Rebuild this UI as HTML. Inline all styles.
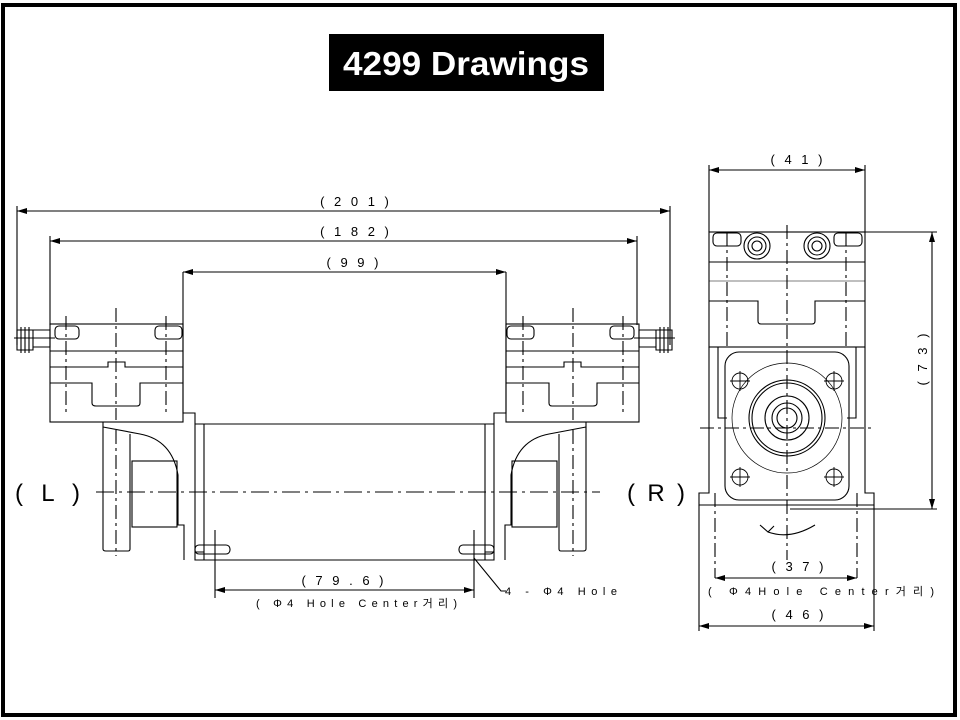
<!DOCTYPE html>
<html><head><meta charset="utf-8"><style>
html,body{margin:0;padding:0;background:#fff;}
svg{display:block;}
text{font-family:"Liberation Sans","Noto Sans CJK KR",sans-serif;fill:#000;}
</style></head><body>
<svg width="960" height="720" viewBox="0 0 960 720" xmlns="http://www.w3.org/2000/svg">
<defs>
<marker id="a" viewBox="0 0 10 6" refX="10" refY="3" markerWidth="10" markerHeight="6" orient="auto-start-reverse" markerUnits="userSpaceOnUse"><path d="M0,0 L10,3 L0,6 z" fill="#000"/></marker>
</defs>
<rect x="3" y="5" width="952" height="710" fill="#fff" stroke="#000" stroke-width="4"/>
<rect x="329" y="34" width="275" height="57" fill="#000"/>
<text x="466" y="75" font-size="33" font-weight="bold" text-anchor="middle" style="fill:#fff" textLength="246" lengthAdjust="spacingAndGlyphs">4299 Drawings</text>

<g fill="none" stroke="#000" stroke-width="1.1">
<line x1="17" y1="211" x2="670" y2="211" marker-start="url(#a)" marker-end="url(#a)"/>
<line x1="50" y1="241" x2="637" y2="241" marker-start="url(#a)" marker-end="url(#a)"/>
<line x1="183" y1="272" x2="506" y2="272" marker-start="url(#a)" marker-end="url(#a)"/>
<line x1="17" y1="206" x2="17" y2="345"/><line x1="670" y1="206" x2="670" y2="345"/>
<line x1="50" y1="236" x2="50" y2="325"/><line x1="637" y1="236" x2="637" y2="325"/>
<line x1="215" y1="590" x2="474" y2="590" marker-start="url(#a)" marker-end="url(#a)"/>
<line x1="215" y1="530" x2="215" y2="598"/><line x1="474" y1="530" x2="474" y2="598"/>
<polyline points="474,558 501,591 506,591"/>
<line x1="96" y1="492" x2="600" y2="492" stroke-dasharray="18,5,3,5"/>

<g id="half">
<path d="M17,330 h16 v20 h-16 z M21,327 v26 M25,327 v26 M29,327 v26 M33,330 h17 v17 h-17"/>
<line x1="14" y1="338" x2="55" y2="338"/>
<rect x="50" y="324" width="133" height="98"/>
<line x1="50" y1="351" x2="183" y2="351"/>
<path d="M50,367 H108 V362 H125 V367 H183"/>
<path d="M50,383 H92 V403 Q92,406 96,406 H137 Q140,406 140,403 V383 H183"/>
<rect x="55" y="326" width="24" height="13" rx="4"/>
<rect x="155" y="326" width="27" height="13" rx="4"/>
<g stroke-dasharray="14,4,3,4"><line x1="66" y1="316" x2="66" y2="415"/><line x1="116" y1="308" x2="116" y2="420"/><line x1="166" y1="316" x2="166" y2="415"/><line x1="116" y1="430" x2="116" y2="556"/></g>
<path d="M183,272 V413 H195 V560 H344.5"/>
<path d="M195,424 H344.5 M204,424 V560 M195,552 H204"/>
<path d="M103,422 V549 Q103,551 106,551 H128 Q130,551 130,549 V434"/>
<path d="M103,427 L140,434 Q172,440 178,475 V525 H184 V560"/>
<rect x="132" y="461" width="45" height="66"/>
<rect x="195" y="545" width="35" height="9" rx="4"/>
</g>
<use href="#half" transform="translate(689,0) scale(-1,1)"/>

<line x1="709" y1="170" x2="865" y2="170" marker-start="url(#a)" marker-end="url(#a)"/>
<line x1="709" y1="165" x2="709" y2="232"/><line x1="865" y1="165" x2="865" y2="232"/>
<line x1="932" y1="232" x2="932" y2="509" marker-start="url(#a)" marker-end="url(#a)"/>
<line x1="865" y1="232" x2="937" y2="232"/><line x1="790" y1="509" x2="937" y2="509"/>
<rect x="709" y="232" width="156" height="115"/>
<line x1="709" y1="262" x2="865" y2="262"/>
<line x1="709" y1="281" x2="865" y2="281" stroke-width="0.6"/>
<path d="M709,301 H758 V321 Q758,324 761,324 H812 Q815,324 815,321 V301 H865"/>
<rect x="713" y="233" width="28" height="13" rx="4"/>
<rect x="834" y="233" width="28" height="13" rx="4"/>
<circle cx="757" cy="246" r="13"/><circle cx="757" cy="246" r="9"/><circle cx="757" cy="246" r="5"/>
<circle cx="817" cy="246" r="13"/><circle cx="817" cy="246" r="9"/><circle cx="817" cy="246" r="5"/>
<path d="M709,347 V493 H699 V505 H874 V493 H865 V347"/>
<path d="M718,347 V418 H727 M856,347 V418 H847"/>
<rect x="725" y="352" width="124" height="148" rx="14"/>
<circle cx="787" cy="418" r="55" stroke-width="0.7"/>
<circle cx="787" cy="418" r="38"/><circle cx="787" cy="418" r="35"/>
<circle cx="787" cy="418" r="22"/><circle cx="787" cy="418" r="15"/><circle cx="787" cy="418" r="10"/>
<g stroke-width="0.9">
<circle cx="740" cy="381" r="8"/><circle cx="834" cy="381" r="8"/><circle cx="740" cy="477" r="8"/><circle cx="834" cy="477" r="8"/>
<path d="M730,381h20M740,371v20M824,381h20M834,371v20M730,477h20M740,467v20M824,477h20M834,467v20"/>
</g>
<path d="M760,525 L768,532 L774,526 M768,532 Q790,540 815,525"/>
<g stroke-dasharray="14,4,3,4">
<line x1="787" y1="225" x2="787" y2="560"/>
<line x1="727" y1="232" x2="727" y2="350"/><line x1="846" y1="232" x2="846" y2="350"/>
<line x1="700" y1="428" x2="875" y2="428"/>
<line x1="715" y1="493" x2="715" y2="578"/><line x1="857" y1="493" x2="857" y2="578"/>
</g>
<line x1="715" y1="578" x2="857" y2="578" marker-start="url(#a)" marker-end="url(#a)"/>
<line x1="699" y1="626" x2="874" y2="626" marker-start="url(#a)" marker-end="url(#a)"/>
<line x1="699" y1="505" x2="699" y2="631"/><line x1="874" y1="505" x2="874" y2="631"/>
</g>

<g font-size="13" letter-spacing="3">
<text x="356" y="206" text-anchor="middle">( 2 0 1 )</text>
<text x="356" y="236" text-anchor="middle">( 1 8 2 )</text>
<text x="354" y="267" text-anchor="middle">( 9 9 )</text>
<text x="344" y="585" text-anchor="middle">( 7 9 . 6 )</text>
<text x="256" y="607" font-size="11" textLength="204" lengthAdjust="spacing">( Φ4 Hole Center거리)</text>
<text x="505" y="595" font-size="11" textLength="115" lengthAdjust="spacing">4 - Φ4  Hole</text>
<text x="798" y="164" text-anchor="middle">( 4 1 )</text>
<text x="799" y="571" text-anchor="middle">( 3 7 )</text>
<text x="708" y="595" font-size="11" textLength="229" lengthAdjust="spacing">( Φ4Hole  Center거리)</text>
<text x="799" y="619" text-anchor="middle">( 4 6 )</text>
<text transform="translate(927,358) rotate(-90)" text-anchor="middle">( 7 3 )</text>
</g>
<text x="15" y="501" font-size="24" textLength="65" lengthAdjust="spacing">( L )</text>
<text x="627" y="501" font-size="24" textLength="58" lengthAdjust="spacing">( R )</text>
</svg>
</body></html>
